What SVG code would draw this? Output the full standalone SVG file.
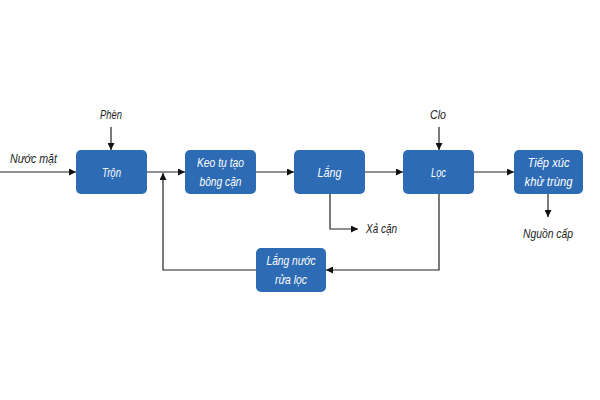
<svg xmlns="http://www.w3.org/2000/svg" width="600" height="400" viewBox="0 0 600 400">
<style>
.box{fill:#2D6BB4;}
.bt{font-family:"Liberation Sans",Arial,sans-serif;font-style:italic;font-size:13.5px;fill:#ffffff;text-anchor:middle;}
.lt{font-family:"Liberation Sans",Arial,sans-serif;font-style:italic;font-size:13.5px;fill:#222222;}
.ln{fill:none;stroke:#222222;stroke-width:1.2;}
</style>
<defs>
<marker id="ah" viewBox="0 0 10 10" refX="10" refY="5" markerWidth="7" markerHeight="7" orient="auto" markerUnits="userSpaceOnUse">
<path d="M0,0 L10,5 L0,10 z" fill="#111111"/>
</marker>
</defs>
<rect width="600" height="400" fill="#ffffff"/>
<g id="connectors">
<path class="ln" d="M0,172 H76" marker-end="url(#ah)"/>
<path class="ln" d="M111,127 V150" marker-end="url(#ah)"/>
<path class="ln" d="M147,172 H185" marker-end="url(#ah)"/>
<path class="ln" d="M256,172 H294" marker-end="url(#ah)"/>
<path class="ln" d="M365,172 H403" marker-end="url(#ah)"/>
<path class="ln" d="M474,172 H514" marker-end="url(#ah)"/>
<path class="ln" d="M439,127 V150" marker-end="url(#ah)"/>
<path class="ln" d="M330,194 V229 H358" marker-end="url(#ah)"/>
<path class="ln" d="M548,194 V217" marker-end="url(#ah)"/>
<path class="ln" d="M439,194 V270 H326" marker-end="url(#ah)"/>
<path class="ln" d="M256,270 H163 V173" marker-end="url(#ah)"/>
</g>
<g id="labels">
<text class="lt" x="10" y="163" textLength="47" lengthAdjust="spacingAndGlyphs">Nước mặt</text>
<text class="lt" x="100" y="119" textLength="22" lengthAdjust="spacingAndGlyphs">Phèn</text>
<text class="lt" x="430" y="119" textLength="16" lengthAdjust="spacingAndGlyphs">Clo</text>
<text class="lt" x="366" y="233" textLength="31" lengthAdjust="spacingAndGlyphs">Xả cặn</text>
<text class="lt" x="523" y="238" textLength="50" lengthAdjust="spacingAndGlyphs">Nguồn cấp</text>
</g>
<g id="node-tron">
<rect class="box" x="76" y="150" width="71" height="44" rx="5"/>
<text class="bt" x="111.5" y="177" textLength="19" lengthAdjust="spacingAndGlyphs">Trộn</text>
</g>
<g id="node-keotu">
<rect class="box" x="185" y="150" width="71" height="44" rx="5"/>
<text class="bt" x="220.5" y="167" textLength="47" lengthAdjust="spacingAndGlyphs">Keo tụ tạo</text>
<text class="bt" x="220.5" y="186" textLength="42" lengthAdjust="spacingAndGlyphs">bông cặn</text>
</g>
<g id="node-lang">
<rect class="box" x="294" y="150" width="71" height="44" rx="5"/>
<text class="bt" x="329.5" y="177" textLength="24" lengthAdjust="spacingAndGlyphs">Lắng</text>
</g>
<g id="node-loc">
<rect class="box" x="403" y="150" width="71" height="44" rx="5"/>
<text class="bt" x="438.5" y="177" textLength="15" lengthAdjust="spacingAndGlyphs">Lọc</text>
</g>
<g id="node-tiepxuc">
<rect class="box" x="514" y="150" width="69" height="44" rx="5"/>
<text class="bt" x="548.5" y="167" textLength="42" lengthAdjust="spacingAndGlyphs">Tiếp xúc</text>
<text class="bt" x="548.5" y="186" textLength="48" lengthAdjust="spacingAndGlyphs">khử trùng</text>
</g>
<g id="node-langnuoc">
<rect class="box" x="256" y="248" width="70" height="44" rx="5"/>
<text class="bt" x="291" y="265" textLength="49" lengthAdjust="spacingAndGlyphs">Lắng nước</text>
<text class="bt" x="291" y="284" textLength="32" lengthAdjust="spacingAndGlyphs">rửa lọc</text>
</g>
</svg>
